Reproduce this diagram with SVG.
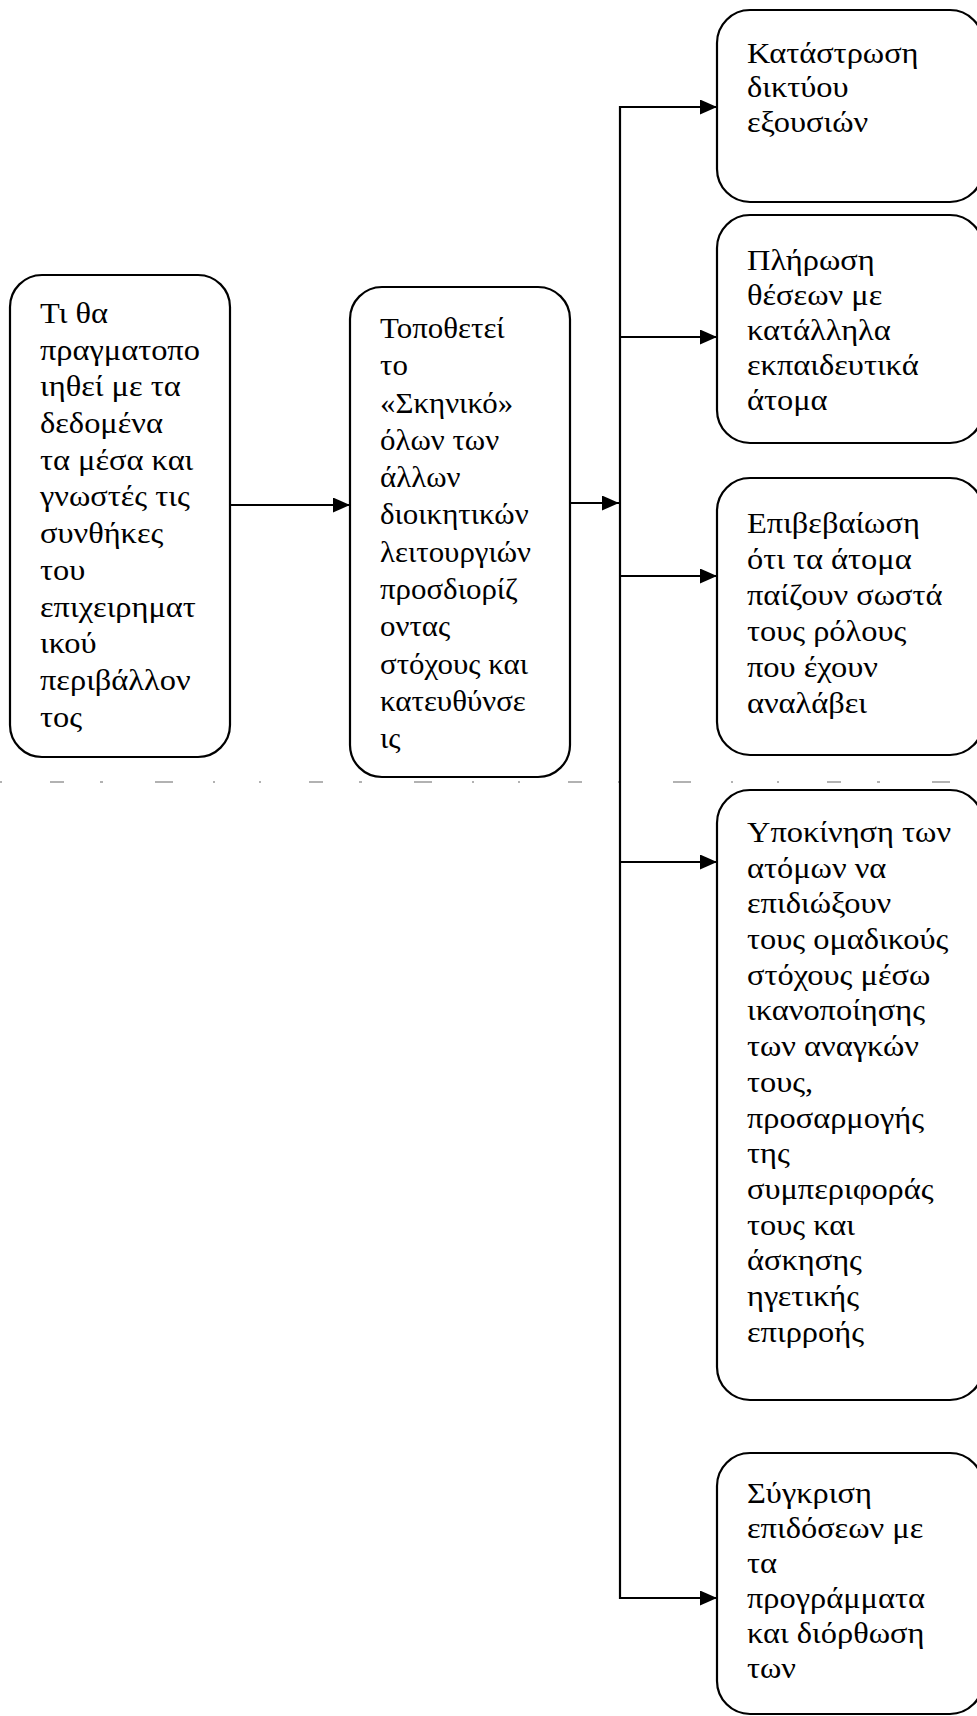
<svg xmlns="http://www.w3.org/2000/svg" width="977" height="1716" viewBox="0 0 977 1716">
<style>
.box{fill:#fff;stroke:#000;stroke-width:2.2}
.t{font-family:"Liberation Serif","Times New Roman",serif;font-size:30px;fill:#000}
.c{fill:none;stroke:#000;stroke-width:2.2}
.noise{fill:none;stroke:#666;stroke-width:1.2;stroke-dasharray:2 48 14 36 3 52 18 40 2 44}
</style>
<defs>
<marker id="ah" markerUnits="userSpaceOnUse" markerWidth="18" markerHeight="16" refX="17" refY="7.5" orient="auto">
<path d="M0,0 L17,7.5 L0,15 z" fill="#000"/>
</marker>
</defs>
<rect width="977" height="1716" fill="#fff"/>
<line class="noise" x1="0" y1="782" x2="965" y2="782"/>
<g id="connectors">
<line class="c" x1="230" y1="505" x2="350" y2="505" marker-end="url(#ah)"/>
<line class="c" x1="570" y1="503" x2="619" y2="503" marker-end="url(#ah)"/>
<line class="c" x1="620" y1="106" x2="620" y2="1599"/>
<line class="c" x1="619" y1="107" x2="717" y2="107" marker-end="url(#ah)"/>
<line class="c" x1="619" y1="337" x2="717" y2="337" marker-end="url(#ah)"/>
<line class="c" x1="619" y1="576" x2="717" y2="576" marker-end="url(#ah)"/>
<line class="c" x1="619" y1="862" x2="717" y2="862" marker-end="url(#ah)"/>
<line class="c" x1="619" y1="1598" x2="717" y2="1598" marker-end="url(#ah)"/>
</g>
<g id="n-left">
<rect class="box" x="10" y="275" width="220" height="482" rx="32" ry="32"/>
<text class="t" transform="translate(40 0) scale(1.08 1)">
<tspan x="0" y="323">Τι θα</tspan>
<tspan x="0" y="359.7">πραγματοπο</tspan>
<tspan x="0" y="396.4">ιηθεί με τα</tspan>
<tspan x="0" y="433.1">δεδομένα</tspan>
<tspan x="0" y="469.8">τα μέσα και</tspan>
<tspan x="0" y="506.5">γνωστές τις</tspan>
<tspan x="0" y="543.2">συνθήκες</tspan>
<tspan x="0" y="579.9">του</tspan>
<tspan x="0" y="616.6">επιχειρηματ</tspan>
<tspan x="0" y="653.3">ικού</tspan>
<tspan x="0" y="690">περιβάλλον</tspan>
<tspan x="0" y="726.7">τος</tspan>
</text>
</g>
<g id="n-middle">
<rect class="box" x="350" y="287" width="220" height="490" rx="32" ry="32"/>
<text class="t" transform="translate(380 0) scale(1.03 1)">
<tspan x="0" y="338">Τοποθετεί</tspan>
<tspan x="0" y="375.3">το</tspan>
<tspan x="0" y="412.6">«Σκηνικό»</tspan>
<tspan x="0" y="449.9">όλων των</tspan>
<tspan x="0" y="487.2">άλλων</tspan>
<tspan x="0" y="524.5">διοικητικών</tspan>
<tspan x="0" y="561.8">λειτουργιών</tspan>
<tspan x="0" y="599.1">προσδιορίζ</tspan>
<tspan x="0" y="636.4">οντας</tspan>
<tspan x="0" y="673.7">στόχους και</tspan>
<tspan x="0" y="711">κατευθύνσε</tspan>
<tspan x="0" y="748.3">ις</tspan>
</text>
</g>
<g id="n-r1">
<rect class="box" x="717" y="10" width="266" height="192" rx="33" ry="33"/>
<text class="t" transform="translate(747 0) scale(1.08 1)">
<tspan x="0" y="63">Κατάστρωση</tspan>
<tspan x="0" y="97.5">δικτύου</tspan>
<tspan x="0" y="132">εξουσιών</tspan>
</text>
</g>
<g id="n-r2">
<rect class="box" x="717" y="215" width="266" height="228" rx="33" ry="33"/>
<text class="t" transform="translate(747 0) scale(1.08 1)">
<tspan x="0" y="270">Πλήρωση</tspan>
<tspan x="0" y="305">θέσεων με</tspan>
<tspan x="0" y="340">κατάλληλα</tspan>
<tspan x="0" y="375">εκπαιδευτικά</tspan>
<tspan x="0" y="410">άτομα</tspan>
</text>
</g>
<g id="n-r3">
<rect class="box" x="717" y="478" width="266" height="277" rx="33" ry="33"/>
<text class="t" transform="translate(747 0) scale(1.08 1)">
<tspan x="0" y="533">Επιβεβαίωση</tspan>
<tspan x="0" y="569">ότι τα άτομα</tspan>
<tspan x="0" y="605">παίζουν σωστά</tspan>
<tspan x="0" y="641">τους ρόλους</tspan>
<tspan x="0" y="677">που έχουν</tspan>
<tspan x="0" y="713">αναλάβει</tspan>
</text>
</g>
<g id="n-r4">
<rect class="box" x="717" y="790" width="266" height="610" rx="33" ry="33"/>
<text class="t" transform="translate(747 0) scale(1.08 1)">
<tspan x="0" y="842">Υποκίνηση των</tspan>
<tspan x="0" y="877.7">ατόμων να</tspan>
<tspan x="0" y="913.4">επιδιώξουν</tspan>
<tspan x="0" y="949.1">τους ομαδικούς</tspan>
<tspan x="0" y="984.8">στόχους μέσω</tspan>
<tspan x="0" y="1020.5">ικανοποίησης</tspan>
<tspan x="0" y="1056.2">των αναγκών</tspan>
<tspan x="0" y="1091.9">τους,</tspan>
<tspan x="0" y="1127.6">προσαρμογής</tspan>
<tspan x="0" y="1163.3">της</tspan>
<tspan x="0" y="1199">συμπεριφοράς</tspan>
<tspan x="0" y="1234.7">τους και</tspan>
<tspan x="0" y="1270.4">άσκησης</tspan>
<tspan x="0" y="1306.1">ηγετικής</tspan>
<tspan x="0" y="1341.8">επιρροής</tspan>
</text>
</g>
<g id="n-r5">
<rect class="box" x="717" y="1453" width="266" height="261" rx="33" ry="33"/>
<text class="t" transform="translate(747 0) scale(1.08 1)">
<tspan x="0" y="1503">Σύγκριση</tspan>
<tspan x="0" y="1538">επιδόσεων με</tspan>
<tspan x="0" y="1573">τα</tspan>
<tspan x="0" y="1608">προγράμματα</tspan>
<tspan x="0" y="1643">και διόρθωση</tspan>
<tspan x="0" y="1678">των</tspan>
</text>
</g>
</svg>
